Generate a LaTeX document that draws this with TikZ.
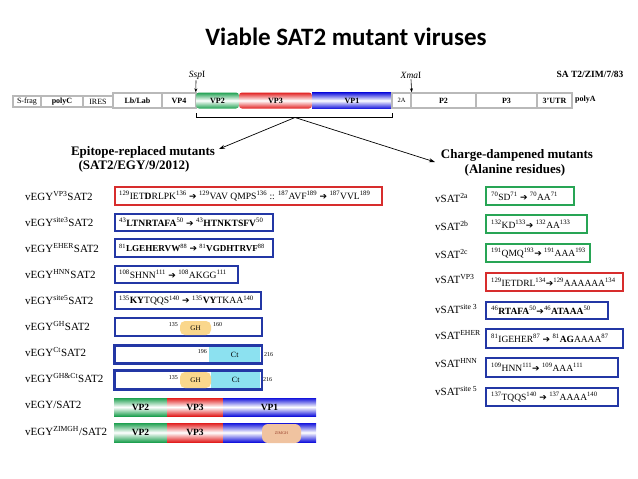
\documentclass[tikz,border=0pt]{standalone}
\usepackage{fontspec}
\setmainfont{Liberation Serif}
\newfontfamily\titlefont{Carlito}
\newfontfamily\symfont{DejaVu Sans}
\usetikzlibrary{arrows.meta}
\newcommand\su[1]{\textsuperscript{#1}}
\newcommand\rar{{\symfont\fontsize{9}{10}\selectfont ➔}}
\definecolor{bbl}{RGB}{35,55,165}
\definecolor{rrd}{RGB}{215,45,45}
\definecolor{ggr}{RGB}{40,165,85}
\definecolor{gbord}{RGB}{185,185,185}
\definecolor{vpg}{RGB}{30,160,80}
\definecolor{vpr}{RGB}{225,30,30}
\definecolor{vpb}{RGB}{20,20,220}
\definecolor{ghc}{RGB}{250,215,140}
\definecolor{ctc}{RGB}{140,225,240}
\definecolor{zimc}{RGB}{240,195,160}
\tikzset{
  gseg/.style={draw=gbord, line width=1.3, fill=white, inner sep=0, font=\fontsize{8}{9}\selectfont\bfseries},
  gsegn/.style={gseg, font=\fontsize{8}{9}\selectfont},
  vpseg/.style={inner sep=0, font=\fontsize{8}{9}\selectfont\bfseries},
  vpgreen/.style={top color=vpg, bottom color=vpg, middle color=white},
  vpred/.style={top color=vpr, bottom color=vpr, middle color=white},
  vpblue/.style={top color=vpb, bottom color=vpb, middle color=white},
  lbl/.style={anchor=west, inner sep=0, font=\fontsize{11}{13}\selectfont},
  mbx/.style={draw=bbl, line width=1.6, fill=white, anchor=west, inner sep=0},
  mtx/.style={anchor=west, inner sep=0, font=\fontsize{9.6}{11}\selectfont},
  rtx/.style={anchor=west, inner sep=0, font=\fontsize{9.5}{11}\selectfont},
  head/.style={inner sep=0, font=\fontsize{13}{15}\selectfont\bfseries},
  site/.style={inner sep=0, font=\fontsize{9.5}{11}\selectfont},
  conn/.style={-{Stealth[length=6pt,width=4pt]}, line width=0.7},
  tiny/.style={inner sep=0, font=\fontsize{6}{7}\selectfont},
}
\begin{document}
\begin{tikzpicture}[x=1pt,y=-1pt]
\useasboundingbox (0,0) rectangle (638,479);
% title
\node[inner sep=0, font=\titlefont\bfseries\fontsize{25}{30}\selectfont] (title) at (346,37) {Viable SAT2 mutant viruses};
% genome
\node[gsegn, minimum width=28, minimum height=11] (sfrag) at (27,101.5) {S-frag};
\node[gseg, minimum width=42, minimum height=11] (polyc) at (62,101.5) {polyC};
\node[gsegn, minimum width=30, minimum height=11] (ires) at (98,101.5) {IRES};
\node[gseg, minimum width=49, minimum height=15] (lb) at (137.5,100.5) {Lb/Lab};
\node[gseg, minimum width=34, minimum height=15] (vp4) at (179,100.5) {VP4};
\node[vpseg, vpgreen, rounded corners=3, minimum width=43, minimum height=16] (vp2) at (217.5,100.5) {VP2};
\node[vpseg, vpred, rounded corners=3, minimum width=73, minimum height=16] (vp3) at (275.5,100.5) {VP3};
\node[vpseg, vpblue, minimum width=80, minimum height=16] (vp1) at (352,100.5) {VP1};
\node[gsegn, font=\fontsize{6.5}{8}\selectfont, minimum width=19, minimum height=15] (twoa) at (401.5,100.5) {2A};
\node[gseg, minimum width=65, minimum height=15] (p2) at (443.5,100.5) {P2};
\node[gseg, minimum width=61, minimum height=15] (p3) at (506.5,100.5) {P3};
\node[gseg, minimum width=35, minimum height=15] (utr) at (554.5,100.5) {3'UTR};
\node[inner sep=0, font=\fontsize{8}{9}\selectfont\bfseries, anchor=west] (polya) at (575,100) {polyA};
\node[inner sep=0, font=\fontsize{9.5}{11}\selectfont\bfseries] (zim) at (590,74) {SA T2/ZIM/7/83};
% restriction sites
\node[site] (ssp) at (197,75) {\textit{Ssp}I};
\node[site] (xma) at (411,75) {\textit{Xma}I};
\draw[-{Stealth[length=4pt,width=3pt]}, line width=0.6] (ssp.south) ++(-1,1) -- (vp2.north west);
\draw[-{Stealth[length=4pt,width=3pt]}, line width=0.6] (xma.south) ++(0,1) -- (twoa.north east);
% bracket
\coordinate (bl) at (196,113);
\coordinate (br) at (392,113);
\coordinate (bc) at (295,117.5);
\draw[line width=0.8] (bl) -- (196,117.5) -- (392,117.5) -- (br);
% headings
\node[head] (lh1) at (143,152) {Epitope-replaced mutants};
\node[head] (lh2) at (134,166) {(SAT2/EGY/9/2012)};
\node[head] (rh1) at (517,155) {Charge-dampened mutants};
\node[head] (rh2) at (515,170) {(Alanine residues)};
\coordinate (ltip) at (219,149);
\coordinate (rtip) at (435,162);
\draw[conn] (bc) -- (ltip);
\draw[conn] (bc) -- (rtip);
% left labels
\node[lbl] (l1) at (25,196) {vEGY\su{VP3}SAT2};
\node[lbl] (l2) at (25,222) {vEGY\su{site3}SAT2};
\node[lbl] (l3) at (25,248) {vEGY\su{EHER}SAT2};
\node[lbl] (l4) at (25,274) {vEGY\su{HNN}SAT2};
\node[lbl] (l5) at (25,300) {vEGY\su{site5}SAT2};
\node[lbl] (l6) at (25,326) {vEGY\su{GH}SAT2};
\node[lbl] (l7) at (25,352) {vEGY\su{Ct}SAT2};
\node[lbl] (l8) at (25,378) {vEGY\su{GH\&Ct}SAT2};
\node[lbl] (l9) at (25,405) {vEGY/SAT2};
\node[lbl] (l10) at (25,431) {vEGY\su{ZIMGH}/SAT2};
% left boxes
\node[mbx, draw=rrd, minimum width=267, minimum height=18] (b1) at (114,196) {};
\node[mtx] (t1) at (119,196) {\su{129}IET\textbf{D}RLPK\su{136} \rar{} \su{129}VAV QMPS\su{136} :: \su{187}AVF\su{189} \rar{} \su{187}VVL\su{189}};
\node[mbx, minimum width=158, minimum height=17] (b2) at (114,222.5) {};
\node[mtx] (t2) at (119,222.5) {\su{43}\textbf{LTNRTAFA}\su{50} \rar{} \su{43}\textbf{HTNKTSFV}\su{50}};
\node[mbx, minimum width=158, minimum height=18] (b3) at (114,248) {};
\node[mtx, font=\fontsize{9.1}{11}\selectfont] (t3) at (119,248) {\su{81}\textbf{LGEHERVW}\su{88} \rar{} \su{81}\textbf{VGDHTRVF}\su{88}};
\node[mbx, minimum width=123, minimum height=17] (b4) at (114,274.5) {};
\node[mtx] (t4) at (119,274.5) {\su{108}SHNN\su{111} \rar{} \su{108}AKGG\su{111}};
\node[mbx, minimum width=146, minimum height=17] (b5) at (114,300.5) {};
\node[mtx] (t5) at (119,300.5) {\su{135}\textbf{KY}TQQS\su{140} \rar{} \su{135}\textbf{VY}TKAA\su{140}};
% GH row
\node[mbx, minimum width=147, minimum height=18] (b6) at (114,327) {};
\node[fill=ghc, rounded corners=5, minimum width=31, minimum height=14, inner sep=0, font=\fontsize{7}{8}\selectfont] (gh6) at (195.5,328) {GH};
\node[tiny, anchor=east] (n6a) at (178,325) {135};
\node[tiny, anchor=west] (n6b) at (213,325) {160};
% Ct row
\node[mbx, minimum width=147, minimum height=17] (b7) at (114,354.5) {};
\node[fill=ctc, minimum width=51, minimum height=15.5, inner sep=0, font=\fontsize{8}{9}\selectfont] (ct7) at (234.7,354.5) {Ct};
\draw[bbl, line width=1.6] (b7.north west) rectangle (b7.south east);
\node[tiny, anchor=east] (n7a) at (207,352) {196};
\node[tiny, anchor=west] (n7b) at (264,355) {216};
% GH&Ct row
\node[mbx, minimum width=147, minimum height=18] (b8) at (114,380) {};
\node[fill=ctc, minimum width=49, minimum height=16.5, inner sep=0, font=\fontsize{8}{9}\selectfont] (ct8) at (235.7,380) {Ct};
\node[fill=ghc, rounded corners=5, minimum width=31, minimum height=16, inner sep=0, font=\fontsize{7}{8}\selectfont] (gh8) at (195.5,380) {GH};
\draw[bbl, line width=1.6] (b8.north west) rectangle (b8.south east);
\node[tiny, anchor=east] (n8a) at (178,378) {135};
\node[tiny, anchor=west] (n8b) at (263,380) {216};
% capsid bars
\node[vpseg, vpgreen, font=\fontsize{9.5}{11}\selectfont\bfseries, minimum width=53, minimum height=18] (c9a) at (140.5,407) {VP2};
\node[vpseg, vpred, font=\fontsize{9.5}{11}\selectfont\bfseries, minimum width=56, minimum height=18] (c9b) at (195,407) {VP3};
\node[vpseg, vpblue, font=\fontsize{9.5}{11}\selectfont\bfseries, minimum width=93, minimum height=18] (c9c) at (269.5,407) {VP1};
\node[vpseg, vpgreen, font=\fontsize{9.5}{11}\selectfont\bfseries, minimum width=53, minimum height=19] (c10a) at (140.5,432.5) {VP2};
\node[vpseg, vpred, font=\fontsize{9.5}{11}\selectfont\bfseries, minimum width=56, minimum height=19] (c10b) at (195,432.5) {VP3};
\node[vpseg, vpblue, minimum width=93, minimum height=19] (c10c) at (269.5,432.5) {};
\node[fill=zimc, rounded corners=6, minimum width=39, minimum height=19, inner sep=0, font=\fontsize{4}{5}\selectfont, text={rgb,255:red,150;green,60;blue,40}] (zimgh) at (281.5,433.5) {ZIMGH};
% right labels
\node[lbl] (r1) at (435,198) {vSAT\su{2a}};
\node[lbl] (r2) at (435,226) {vSAT\su{2b}};
\node[lbl] (r3) at (435,254) {vSAT\su{2c}};
\node[lbl] (r4) at (435,279) {vSAT\su{VP3}};
\node[lbl] (r5) at (435,309) {vSAT\su{site 3}};
\node[lbl] (r6) at (435,335) {vSAT\su{EHER}};
\node[lbl] (r7) at (435,363) {vSAT\su{HNN}};
\node[lbl] (r8) at (435,391) {vSAT\su{site 5}};
% right boxes
\node[mbx, draw=ggr, minimum width=88, minimum height=18] (s1) at (485,196) {};
\node[rtx] (u1) at (491,196) {\su{70}SD\su{71} \rar{} \su{70}AA\su{71}};
\node[mbx, draw=ggr, minimum width=101, minimum height=18] (s2) at (485,224) {};
\node[rtx] (u2) at (491,224) {\su{132}KD\su{133}\rar{} \su{132}AA\su{133}};
\node[mbx, draw=ggr, minimum width=104, minimum height=18] (s3) at (485,253) {};
\node[rtx] (u3) at (491,253) {\su{191}QMQ\su{193}\rar{} \su{191}AAA\su{193}};
\node[mbx, draw=rrd, minimum width=137, minimum height=18] (s4) at (485,282) {};
\node[rtx] (u4) at (491,282) {\su{129}IETDRL\su{134}\rar{}\su{129}AAAAAA\su{134}};
\node[mbx, minimum width=122, minimum height=17] (s5) at (485,310.5) {};
\node[rtx] (u5) at (491,310.5) {\su{46}\textbf{RTAFA}\su{50}\rar{}\su{46}\textbf{ATAAA}\su{50}};
\node[mbx, minimum width=137, minimum height=19] (s6) at (485,338.5) {};
\node[rtx] (u6) at (491,338.5) {\su{81}IGEHER\su{87} \rar{} \su{81}\textbf{AG}AAAA\su{87}};
\node[mbx, minimum width=132, minimum height=19] (s7) at (485,367.5) {};
\node[rtx] (u7) at (491,367.5) {\su{109}HNN\su{111}\rar{} \su{109}AAA\su{111}};
\node[mbx, minimum width=132, minimum height=18] (s8) at (485,397) {};
\node[rtx] (u8) at (491,397) {\su{137}TQQS\su{140} \rar{} \su{137}AAAA\su{140}};
\end{tikzpicture}
\end{document}
